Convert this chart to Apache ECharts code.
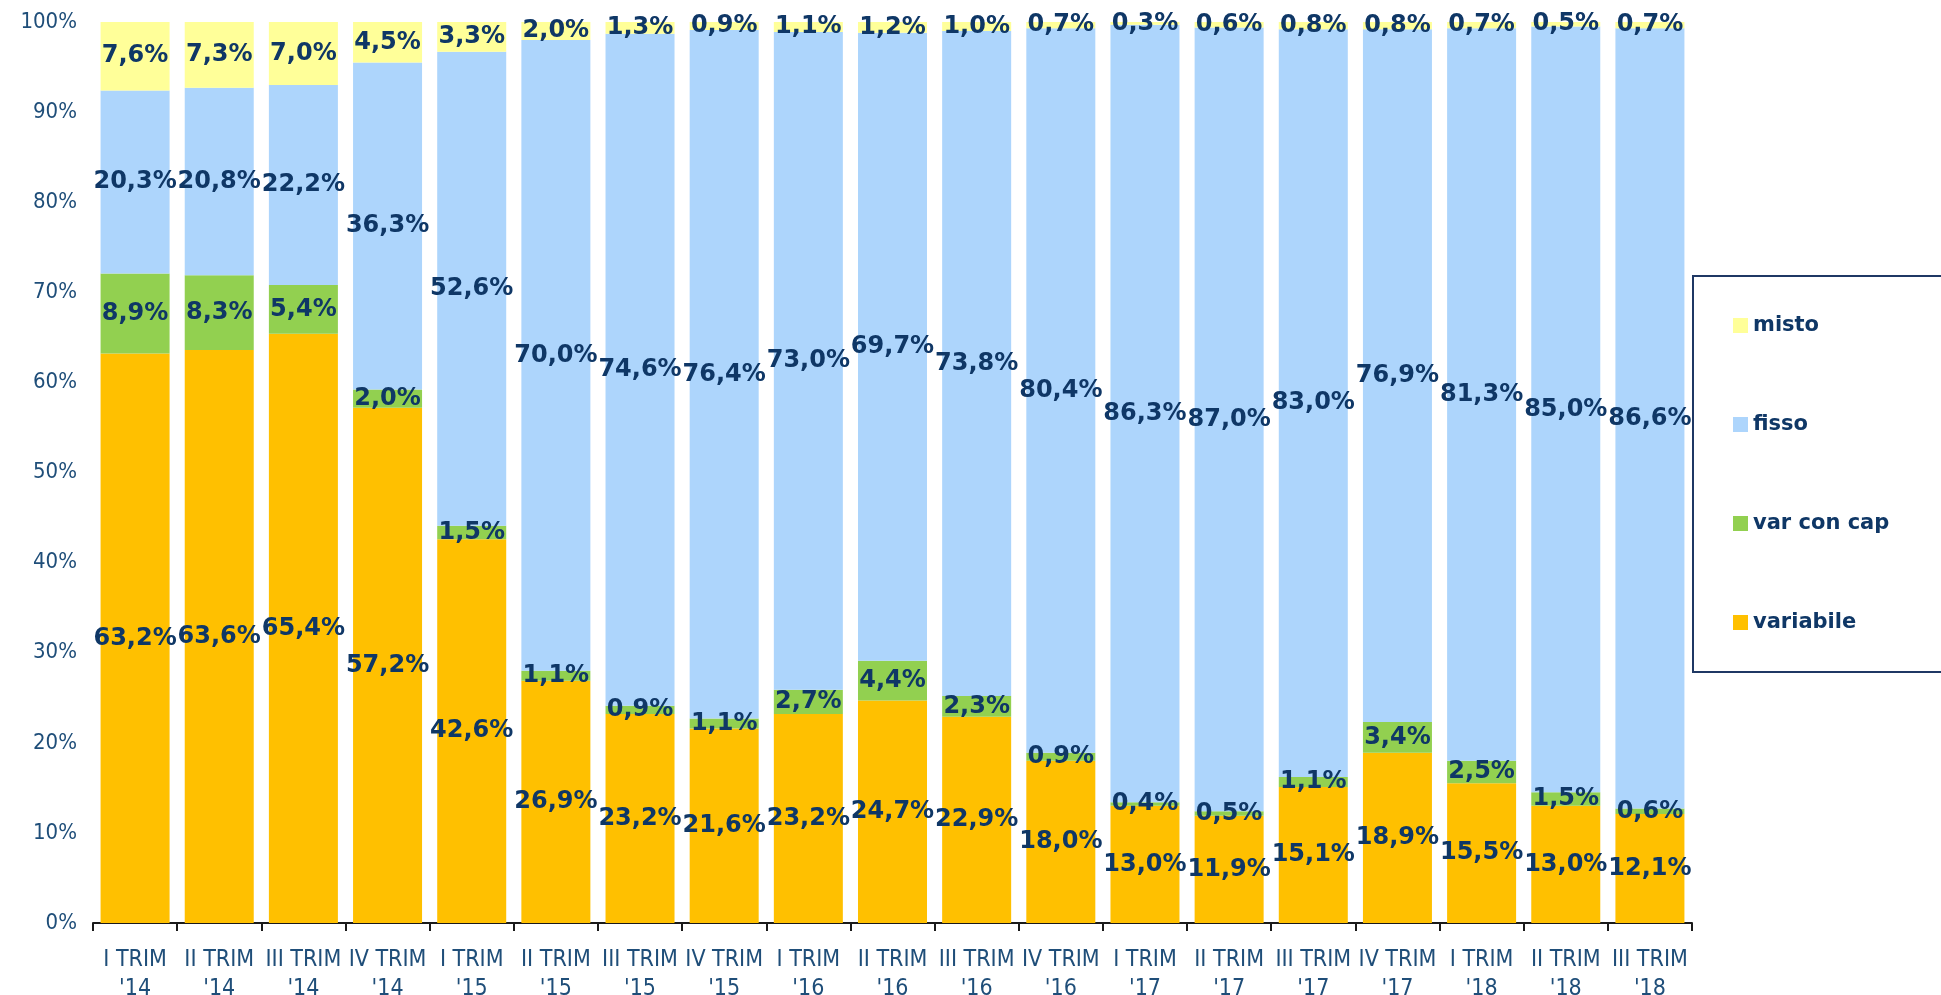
<!DOCTYPE html>
<html>
<head>
<meta charset="utf-8">
<script src="https://cdn.jsdelivr.net/npm/echarts@6/dist/echarts.min.js"></script>
<style>
html,body{margin:0;padding:0;background:#fff;}
#chart{width:1941px;height:995px;}
</style>
</head>
<body>
<div id="chart"></div>
<script>
const categories = ["I TRIM\n'14","II TRIM\n'14","III TRIM\n'14","IV TRIM\n'14","I TRIM\n'15","II TRIM\n'15","III TRIM\n'15","IV TRIM\n'15","I TRIM\n'16","II TRIM\n'16","III TRIM\n'16","IV TRIM\n'16","I TRIM\n'17","II TRIM\n'17","III TRIM\n'17","IV TRIM\n'17","I TRIM\n'18","II TRIM\n'18","III TRIM\n'18"];
const variabile = [63.2,63.6,65.4,57.2,42.6,26.9,23.2,21.6,23.2,24.7,22.9,18.0,13.0,11.9,15.1,18.9,15.5,13.0,12.1];
const varConCap = [8.9,8.3,5.4,2.0,1.5,1.1,0.9,1.1,2.7,4.4,2.3,0.9,0.4,0.5,1.1,3.4,2.5,1.5,0.6];
const fisso = [20.3,20.8,22.2,36.3,52.6,70.0,74.6,76.4,73.0,69.7,73.8,80.4,86.3,87.0,83.0,76.9,81.3,85.0,86.6];
const misto = [7.6,7.3,7.0,4.5,3.3,2.0,1.3,0.9,1.1,1.2,1.0,0.7,0.3,0.6,0.8,0.8,0.7,0.5,0.7];
const yTicks = [0,10,20,30,40,50,60,70,80,90,100];

const labelColor = '#0F3766';
const axisColor = '#1F4E79';
const labelFont = 'DejaVu Sans';
const axisFont = '"Liberation Sans Narrow", "DejaVu Sans Condensed", sans-serif';

function mk(name, data, color) {
  return {
    name: name,
    type: 'bar',
    stack: 'total',
    data: data,
    barCategoryGap: '18%',
    itemStyle: { color: color },
    label: {
      show: true,
      position: 'inside',
      color: labelColor,
      fontFamily: labelFont,
      fontWeight: 'bold',
      fontSize: 24,
      formatter: p => p.value.toFixed(1).replace('.', ',') + '%'
    },
    z: 2
  };
}

const chart = echarts.init(document.getElementById('chart'), null, {renderer: 'canvas'});
chart.setOption({
  animation: false,
  backgroundColor: '#ffffff',
  grid: { left: 93, right: 249, top: 22, bottom: 72, containLabel: false, outerBoundsMode: 'none' },
  legend: {
    orient: 'vertical',
    left: 1693,
    top: 276,
    data: ['misto','fisso','var con cap','variabile'],
    icon: 'rect',
    itemWidth: 15,
    itemHeight: 15,
    itemGap: 78,
    padding: [39, 80, 39, 40],
    borderColor: '#1F3864',
    borderWidth: 2,
    textStyle: { color: labelColor, fontFamily: labelFont, fontWeight: 'bold', fontSize: 21 },
    selectedMode: false
  },
  xAxis: {
    type: 'category',
    data: categories,
    axisLine: { show: true, lineStyle: { color: '#1a1a1a', width: 2 } },
    axisTick: { show: true, length: 8, lineStyle: { color: '#1a1a1a', width: 2 } },
    axisLabel: { color: axisColor, fontFamily: axisFont, fontSize: 23, lineHeight: 29, margin: 23, interval: 0 }
  },
  yAxis: {
    type: 'value',
    min: yTicks[0],
    max: yTicks[yTicks.length - 1],
    interval: 10,
    axisLine: { show: false },
    axisTick: { show: false },
    splitLine: { show: false },
    axisLabel: { color: axisColor, fontFamily: axisFont, fontSize: 22, margin: 16, formatter: v => v + '%' }
  },
  series: [
    mk('variabile', variabile, '#FFC000'),
    mk('var con cap', varConCap, '#92D050'),
    mk('fisso', fisso, '#ADD5FC'),
    mk('misto', misto, '#FFFF99')
  ]
});
</script>
</body>
</html>
